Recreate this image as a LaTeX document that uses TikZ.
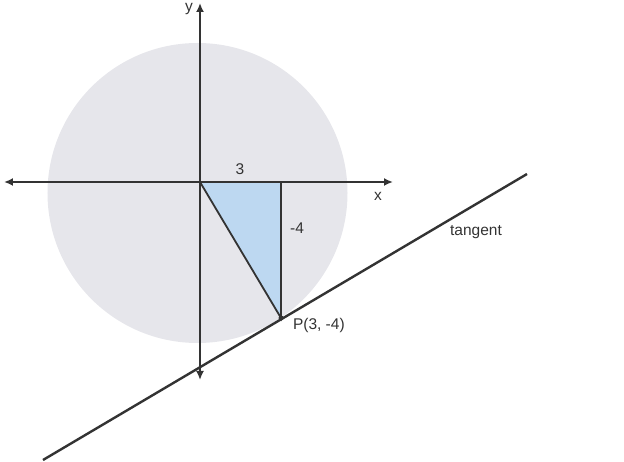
\documentclass[tikz,border=0pt]{standalone}
\usepackage{fontspec}
\setmainfont{Liberation Sans}
\usetikzlibrary{arrows.meta}
\definecolor{ink}{HTML}{333333}
\definecolor{disk}{HTML}{E6E6EB}
\definecolor{wedge}{HTML}{BDD8F1}
\begin{document}
\begin{tikzpicture}[>={Latex[length=9bp,width=8bp]}, x=1bp, y=1bp, line width=2bp, draw=ink,
    every node/.style={text=ink, font=\fontsize{15.5bp}{18bp}\selectfont}]
\useasboundingbox (-200,-280) rectangle (424,182);
\fill[disk](-2.5,-11) circle(150);

\coordinate (O) at (0,0);
\coordinate (A) at (81,0);
\coordinate (P) at (81,-136);
\coordinate (xl) at (-196,0);
\coordinate (xr) at (193,0);
\coordinate (yt) at (0,179);
\coordinate (yb) at (0,-198);
\coordinate (t1) at (-157,-278);
\coordinate (t2) at (327,8);

\fill[wedge](O)--(A)--(P)--cycle;
\draw[line width=1.8bp](O)--(P)--(A);
\draw[<->](xl)--(xr);
\draw[<->](yt)--(yb);
\draw[line width=2.4bp](t1)--(t2);
\fill[ink](P) circle(2.5);

\node (ylab) at (-11,172.5)[inner sep=1pt]{y};
\node (xlab) at (178,-14){x};
\node (run) at (40,13){3};
\node (rise) at (97,-46){-4};
\node (tan) at (276,-50){tangent};
\node (plab) at (92,-143)[right, inner sep=0pt]{P(3, -4)};
\end{tikzpicture}
\end{document}
